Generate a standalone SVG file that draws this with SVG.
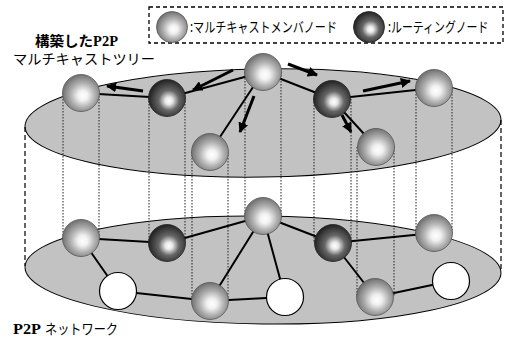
<svg xmlns="http://www.w3.org/2000/svg" width="506" height="338" viewBox="0 0 506 338">
<defs>
<radialGradient id="gg" cx="0.55" cy="0.55" r="0.55" fx="0.55" fy="0.58">
<stop offset="0" stop-color="#ffffff"/>
<stop offset="0.25" stop-color="#f0f0f0"/>
<stop offset="0.6" stop-color="#b0b0b0"/>
<stop offset="1" stop-color="#727272"/>
</radialGradient>
<radialGradient id="gd" cx="0.55" cy="0.55" r="0.55" fx="0.55" fy="0.58">
<stop offset="0" stop-color="#ffffff"/>
<stop offset="0.18" stop-color="#e8e8e8"/>
<stop offset="0.5" stop-color="#666"/>
<stop offset="1" stop-color="#222"/>
</radialGradient>
<marker id="ah" viewBox="0 0 10 10" refX="9" refY="5" markerWidth="3.4" markerHeight="3.4" orient="auto" markerUnits="strokeWidth">
<path d="M0,0 L10,5 L0,10 z" fill="#000"/>
</marker>
</defs>
<style>
.plane{fill:#c2c2c2;stroke:#000;stroke-width:1}
.tip{stroke:#000;stroke-width:1.2;stroke-dasharray:5 3;fill:none}
.dot{stroke:#222;stroke-width:1;stroke-dasharray:1.5 1.5;fill:none}
.edge{stroke:#000;stroke-width:2;fill:none}
.arr{stroke:#000;stroke-width:3;fill:none;marker-end:url(#ah)}
.g{fill:url(#gg);stroke:#555;stroke-width:0.8}
.d{fill:url(#gd);stroke:#222;stroke-width:0.8}
.w{fill:#fff;stroke:#000;stroke-width:1.2}
.t{font-family:"Noto Sans CJK JP","Liberation Serif",serif;font-size:14px;fill:#000}
.b{font-family:"Liberation Serif","Noto Sans CJK JP",serif;font-weight:bold}
.leg{fill:none;stroke:#000;stroke-width:1.3;stroke-dasharray:4 3}
</style>

<g id="planes">
<ellipse id="lower-plane" class="plane" cx="263" cy="270" rx="238" ry="54" transform="rotate(0.7 263 270)"/>
<ellipse id="upper-plane" class="plane" cx="263" cy="123" rx="238" ry="54" transform="rotate(-0.85 263 123)"/>
</g>

<g id="projections">
<line class="tip" x1="25" y1="127" x2="25" y2="266"/>
<line class="tip" x1="501" y1="120" x2="501" y2="272"/>
<line class="dot" x1="63" y1="93" x2="63" y2="238"/>
<line class="dot" x1="99" y1="93" x2="99" y2="238"/>
<line class="dot" x1="149" y1="98" x2="149" y2="243"/>
<line class="dot" x1="185" y1="98" x2="185" y2="243"/>
<line class="dot" x1="192" y1="152" x2="192" y2="301"/>
<line class="dot" x1="228" y1="152" x2="228" y2="301"/>
<line class="dot" x1="245" y1="72" x2="245" y2="216"/>
<line class="dot" x1="281" y1="72" x2="281" y2="216"/>
<line class="dot" x1="314" y1="99" x2="314" y2="243"/>
<line class="dot" x1="351" y1="99" x2="351" y2="243"/>
<line class="dot" x1="357" y1="147" x2="357" y2="297"/>
<line class="dot" x1="394" y1="147" x2="394" y2="297"/>
<line class="dot" x1="416" y1="88" x2="416" y2="233"/>
<line class="dot" x1="452" y1="88" x2="452" y2="233"/>
</g>

<g id="connectors">
<line class="edge" x1="81" y1="93" x2="167" y2="98"/>
<line class="edge" x1="167" y1="98" x2="263" y2="72"/>
<line class="edge" x1="263" y1="72" x2="210" y2="152"/>
<line class="edge" x1="263" y1="72" x2="332" y2="99"/>
<line class="edge" x1="332" y1="99" x2="434" y2="88"/>
<line class="edge" x1="332" y1="99" x2="376" y2="147"/>
<line class="edge" x1="81" y1="238" x2="167" y2="243"/>
<line class="edge" x1="81" y1="238" x2="118" y2="291"/>
<line class="edge" x1="118" y1="291" x2="210" y2="301"/>
<line class="edge" x1="167" y1="243" x2="263" y2="216"/>
<line class="edge" x1="210" y1="301" x2="263" y2="216"/>
<line class="edge" x1="210" y1="301" x2="285" y2="297"/>
<line class="edge" x1="263" y1="216" x2="285" y2="297"/>
<line class="edge" x1="263" y1="216" x2="333" y2="243"/>
<line class="edge" x1="333" y1="243" x2="434" y2="233"/>
<line class="edge" x1="333" y1="243" x2="375" y2="297"/>
<line class="edge" x1="375" y1="297" x2="451" y2="281"/>
<line class="arr" x1="143" y1="91" x2="107" y2="86"/>
<line class="arr" x1="233" y1="70" x2="193" y2="90"/>
<line class="arr" x1="254" y1="96" x2="240" y2="132"/>
<line class="arr" x1="288" y1="64" x2="317" y2="75"/>
<line class="arr" x1="363" y1="91" x2="410" y2="81"/>
<line class="arr" x1="342" y1="115" x2="351" y2="132"/>
</g>

<g id="n1"><circle class="g" cx="81" cy="93" r="18.5"/></g>
<g id="n2"><circle class="d" cx="167" cy="98" r="18.5"/></g>
<g id="n3"><circle class="g" cx="263" cy="72" r="18.5"/></g>
<g id="n4"><circle class="g" cx="210" cy="152" r="18.5"/></g>
<g id="n5"><circle class="d" cx="332" cy="99" r="18.5"/></g>
<g id="n6"><circle class="g" cx="434" cy="88" r="18.5"/></g>
<g id="n7"><circle class="g" cx="376" cy="147" r="18.5"/></g>

<g id="na"><circle class="g" cx="81" cy="238" r="18.5"/></g>
<g id="nb"><circle class="d" cx="167" cy="243" r="18.5"/></g>
<g id="nc"><circle class="g" cx="263" cy="216" r="18.5"/></g>
<g id="nd"><circle class="d" cx="333" cy="243" r="18.5"/></g>
<g id="ne"><circle class="g" cx="434" cy="233" r="18.5"/></g>
<g id="nf"><circle class="g" cx="210" cy="301" r="18.5"/></g>
<g id="ng"><circle class="g" cx="375" cy="297" r="18.5"/></g>
<g id="w1"><circle class="w" cx="118" cy="291" r="18.5"/></g>
<g id="w2"><circle class="w" cx="285" cy="297" r="18.5"/></g>
<g id="w3"><circle class="w" cx="451" cy="281" r="18.5"/></g>

<g id="legend">
<rect class="leg" x="149" y="7" width="354" height="36"/>
<circle class="g" cx="172" cy="27" r="15.5"/>
<text class="t" x="190" y="32" textLength="147" lengthAdjust="spacingAndGlyphs">:マルチキャストメンバノード</text>
<circle class="d" cx="369" cy="27" r="15.5"/>
<text class="t" transform="translate(388 32) scale(0.78 1)" x="0" y="0">:ルーティングノード</text>
</g>

<g id="labels">
<text class="t b" x="35" y="46" textLength="83" lengthAdjust="spacingAndGlyphs">構築したP2P</text>
<text class="t" x="13" y="64" textLength="142" lengthAdjust="spacingAndGlyphs">マルチキャストツリー</text>
<text class="t b" x="13" y="334" textLength="28" lengthAdjust="spacingAndGlyphs">P2P</text>
<text class="t" x="45" y="334" textLength="73" lengthAdjust="spacingAndGlyphs">ネットワーク</text>
</g>
</svg>
